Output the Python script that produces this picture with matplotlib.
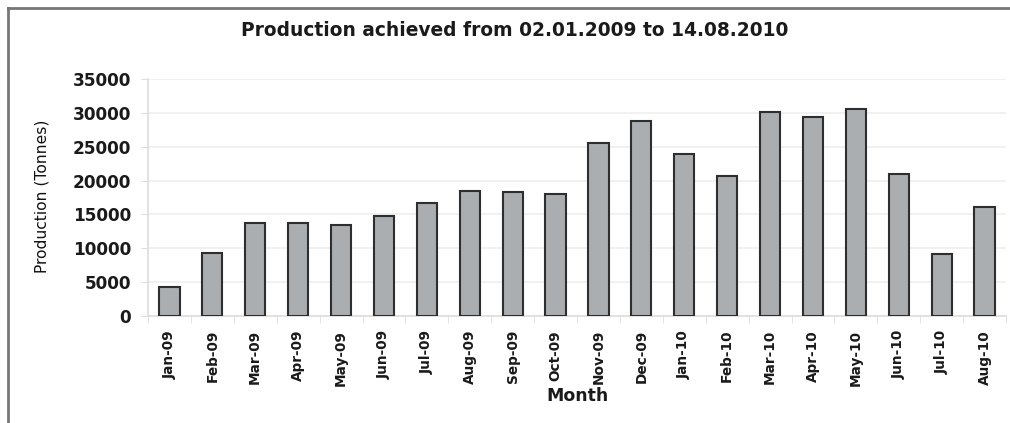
import numpy as np
import matplotlib
matplotlib.use("Agg")
from matplotlib import pyplot as plt
from matplotlib.lines import Line2D

plt.rcParams['font.family'] = ['DejaVu Sans']

# monthly production, tonnes
months = ["Jan-09", "Feb-09", "Mar-09", "Apr-09", "May-09", "Jun-09", "Jul-09",
          "Aug-09", "Sep-09", "Oct-09", "Nov-09", "Dec-09", "Jan-10", "Feb-10",
          "Mar-10", "Apr-10", "May-10", "Jun-10", "Jul-10", "Aug-10"]
production = [4300, 9350, 13750, 13750, 13420, 14750, 16670,
              18480, 18290, 17950, 25590, 28870, 23920, 20740,
              30130, 29400, 30630, 20950, 9150, 16080]
yticks = [0, 5000, 10000, 15000, 20000, 25000, 30000, 35000]

W, H = 1010, 423
fig = plt.figure(figsize=(W / 100, H / 100), dpi=100)
ax = fig.add_axes([148 / W, 1 - 316 / H, 858 / W, 237 / H])

x = np.arange(len(months))
ax.bar(x, production, width=0.47, color="#abaeb1", edgecolor="#2e2e2e",
       linewidth=1.5, zorder=3)

ax.set_xlim(-0.5, len(months) - 0.5)
ax.set_ylim(0, 35000)
ax.set_yticks(yticks)
ax.set_yticklabels([str(v) for v in yticks], fontsize=12.2, fontweight="bold",
                   color="#1a1a1a")
ax.yaxis.grid(True, color="#efefef", linewidth=1.2, zorder=0)

# labels centred on bars, tick marks between categories
ax.set_xticks(x)
ax.set_xticklabels(months, rotation=90, fontsize=9.8, fontweight="bold",
                   color="#1a1a1a")
ax.set_xticks(np.arange(-0.5, len(months)), minor=True)
ax.tick_params(axis="x", which="major", length=0, pad=10)
ax.tick_params(axis="x", which="minor", length=5, color="#dddddd")
ax.tick_params(axis="y", length=5, color="#dddddd", pad=7)

for side in ["top", "right"]:
    ax.spines[side].set_visible(False)
for side in ["left", "bottom"]:
    ax.spines[side].set_color("#dddddd")
    ax.spines[side].set_linewidth(1.2)

fig.text(42 / W, 1 - 196 / H, "Production (Tonnes)", rotation=90,
         ha="center", va="center", fontsize=11.2, color="#111111")
fig.text(577 / W, 1 - 396 / H, "Month", ha="center", va="center",
         fontsize=12.5, fontweight="bold", color="#1a1a1a")
fig.text(515 / W, 1 - 30 / H, "Production achieved from 02.01.2009 to 14.08.2010",
         ha="center", va="center", fontsize=13.4, fontweight="bold",
         color="#1a1a1a")

# outer frame: left and top edges only
fig.add_artist(Line2D([8 / W, 8 / W], [0, 1 - 8 / H],
                      transform=fig.transFigure, color="#777777", linewidth=2))
fig.add_artist(Line2D([8 / W, 1], [1 - 8 / H, 1 - 8 / H],
                      transform=fig.transFigure, color="#777777", linewidth=2))

fig.savefig("out.png", dpi=100)
